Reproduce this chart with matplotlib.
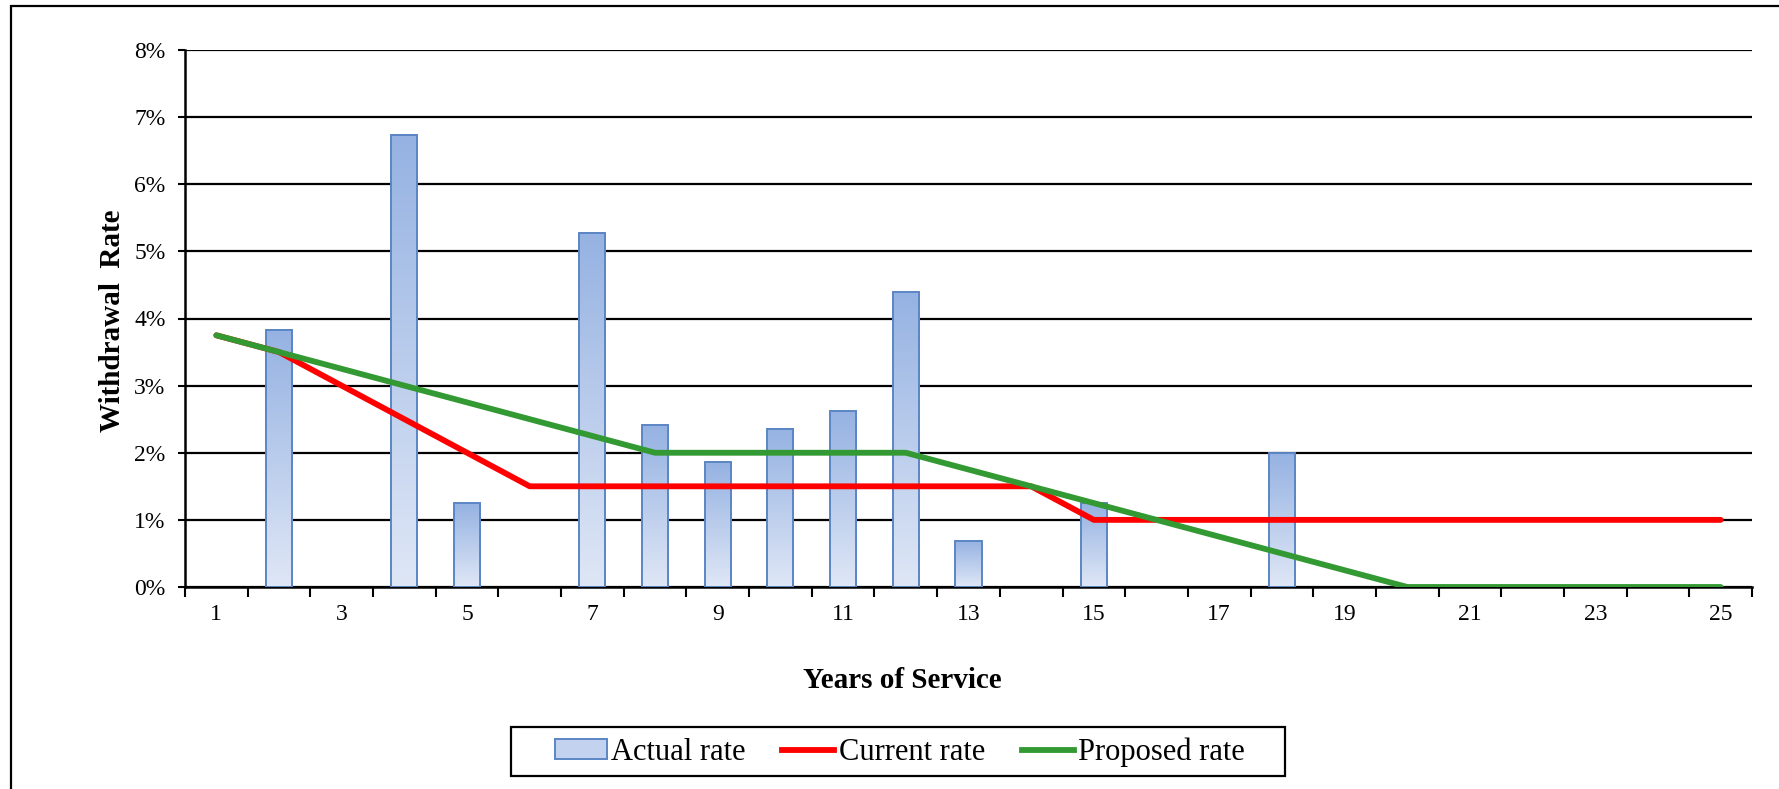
import numpy as np
import matplotlib
matplotlib.use("Agg")
import matplotlib.pyplot as plt
from matplotlib.colors import LinearSegmentedColormap
from matplotlib.patches import Rectangle, Patch
from matplotlib.lines import Line2D
from matplotlib.ticker import FuncFormatter, FixedLocator

plt.rcParams["font.family"] = ["Liberation Serif", "DejaVu Serif"]

# data (percent)
years = list(range(1, 26))
actual_rate = [None, 3.83, None, 6.74, 1.25, None, 5.28, 2.41, 1.86, 2.36, 2.62, 4.39,
               0.69, None, 1.25, None, None, 1.99, None, None, None, None, None, None, None]
current_rate = [3.75, 3.5, 3.0, 2.5, 2.0, 1.5, 1.5, 1.5, 1.5, 1.5, 1.5, 1.5, 1.5, 1.5,
                1.0, 1.0, 1.0, 1.0, 1.0, 1.0, 1.0, 1.0, 1.0, 1.0, 1.0]
proposed_rate = [3.75, 3.5, 3.25, 3.0, 2.75, 2.5, 2.25, 2.0, 2.0, 2.0, 2.0, 2.0, 1.75,
                 1.5, 1.25, 1.0, 0.75, 0.5, 0.25, 0.0, 0.0, 0.0, 0.0, 0.0, 0.0]
x_labels = [str(y) for y in years if y % 2 == 1]

W, H = 1779, 789
fig = plt.figure(figsize=(W / 100, H / 100), dpi=100)
ax = fig.add_axes([185 / W, 1 - 587 / H, (1752 - 185) / W, (587 - 50) / H])

# outer chart frame (only top and left edges fall inside the image)
fig.patches.append(Rectangle((11 / W, -0.1), 1.2, 1 - 6 / H + 0.1, transform=fig.transFigure,
                             fill=False, edgecolor="black", lw=1.6, zorder=0))

bar_cmap = LinearSegmentedColormap.from_list("bar", ["#dfe7f6", "#95b2e2"])
grad = np.linspace(0, 1, 256).reshape(-1, 1)
bw = 0.415
for x, v in zip(years, actual_rate):
    if v is None:
        continue
    h = v / 100
    ax.imshow(grad, extent=(x - bw / 2, x + bw / 2, 0, h), origin="lower", aspect="auto",
              cmap=bar_cmap, zorder=2, interpolation="bilinear")
    ax.bar(x, h, width=bw, fill=False, edgecolor="#5b86c4", lw=1.4, zorder=3)

ax.plot(years, np.array(current_rate) / 100, color="#ff0000", lw=4.2, zorder=4,
        solid_capstyle="round", solid_joinstyle="round")
ax.plot(years, np.array(proposed_rate) / 100, color="#339933", lw=4.2, zorder=5,
        solid_capstyle="round", solid_joinstyle="round")

ax.set_xlim(0.5, 25.5)
ax.set_ylim(0, 0.08)
ax.set_aspect("auto")

ax.set_yticks(np.arange(0, 0.081, 0.01))
ax.yaxis.set_major_formatter(FuncFormatter(lambda v, p: f"{v * 100:.0f}%"))
ax.yaxis.grid(True, color="black", lw=1.6, zorder=1)
ax.set_axisbelow(True)

ax.xaxis.set_major_locator(FixedLocator(np.arange(0.5, 26, 1)))
ax.xaxis.set_major_formatter(FuncFormatter(lambda v, p: ""))
ax.xaxis.set_minor_locator(FixedLocator([y for y in years if y % 2 == 1]))
ax.set_xticklabels(x_labels, minor=True)
ax.tick_params(axis="x", which="major", direction="out", length=7, width=1.5)
ax.tick_params(axis="x", which="minor", length=0, pad=12, labelsize=17)
ax.tick_params(axis="y", direction="out", length=5, width=1.5, pad=9, labelsize=17)

for s in ["top", "right"]:
    ax.spines[s].set_visible(False)
for s in ["left", "bottom"]:
    ax.spines[s].set_linewidth(1.8)

fig.text(112 / W, 1 - 321 / H, "Withdrawal  Rate", rotation=90, ha="center", va="center",
         fontsize=21, fontweight="bold")
fig.text(902 / W, 1 - 680 / H, "Years of Service", ha="center", va="center",
         fontsize=21, fontweight="bold")

# legend box drawn separately so its margins match the reference
fig.patches.append(Rectangle((511 / W, 1 - 776 / H), (1285 - 511) / W, (776 - 727) / H,
                             transform=fig.transFigure, fill=False, edgecolor="black",
                             lw=1.6, zorder=1))
handles = [Patch(facecolor="#c3d3ef", edgecolor="#5b86c4", lw=1.4),
           Line2D([], [], color="#ff0000", lw=4.2),
           Line2D([], [], color="#339933", lw=4.2)]
fig.legend(handles, ["Actual rate", "Current rate", "Proposed rate"],
           loc="center", bbox_to_anchor=(900 / W, 1 - 752 / H), ncol=3,
           fontsize=22, frameon=False,
           handlelength=1.7, handleheight=0.6, handletextpad=0.15, columnspacing=1.2,
           borderpad=0.1, borderaxespad=0)

fig.savefig("out.png", dpi=100)
